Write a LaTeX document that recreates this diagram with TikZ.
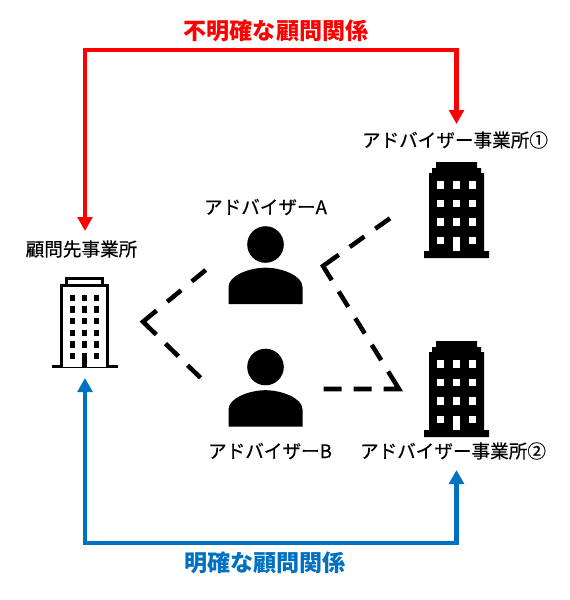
\documentclass[tikz,border=0pt]{standalone}
\usepackage{fontspec}
\setmainfont[FakeBold=0.35]{Noto Sans CJK JP}
\newfontfamily\titlefont{Noto Sans CJK JP}
\usetikzlibrary{arrows.meta}
\definecolor{relred}{RGB}{255,0,0}
\definecolor{relblue}{RGB}{0,112,192}
\tikzset{
  label text/.style={font=\fontsize{13.95pt}{16pt}\selectfont, inner sep=0pt, text=black},
  title text/.style={font=\titlefont\fontsize{17.3pt}{20pt}\selectfont\bfseries, inner sep=0pt},
  relation/.style={line width=3.2pt, {Triangle[length=10.5pt,width=11pt]}-{Triangle[length=10.5pt,width=11pt]}, line join=miter},
  dash link/.style={line width=3.4pt, line join=miter, miter limit=10, line cap=butt},
  personicon/.pic={
    \fill[black] (0,0) circle[radius=18.3];
    \fill[black] (-37,59.5) -- (-37,42.5) .. controls (-37,31) and (-16,23.2) .. (0,23.2)
       .. controls (16,23.2) and (37,31) .. (37,42.5) -- (37,59.5) -- cycle;
  },
  darktower/.pic={
    \fill[black] (-32.5,0) -- (-32.5,-7) -- (-27.5,-7) -- (-27.5,-85) -- (-24.5,-85) -- (-24.5,-90)
       -- (-20.5,-90) -- (-20.5,-96) -- (20.5,-96) -- (20.5,-90) -- (24.5,-90) -- (24.5,-85)
       -- (27.5,-85) -- (27.5,-7) -- (32.5,-7) -- (32.5,0) -- cycle;
    \foreach \cx in {-16,0,16} \foreach \cy in {-73,-54.5,-36,-17.5}
      \fill[white] (\cx-3.6,\cy-3.6) rectangle (\cx+3.6,\cy+3.6);
    \fill[white] (-3.6,-21) rectangle (3.6,-7);
  },
  outlinetower/.pic={
    \draw[black,line width=1.7pt] (-33,0) -- (33,0);
    \draw[black,line width=1.7pt,fill=white] (-23,0) -- (-23,-81) -- (23,-81) -- (23,0);
    \draw[black,line width=1.7pt] (-18,-81) -- (-18,-88) -- (18,-88) -- (18,-81);
    \foreach \cx in {-11.7,0,11.7} \foreach \cy in {-68.5,-57,-45.5,-33.5,-22,-10.5}
      \fill[black] (\cx-2.4,\cy-3.3) rectangle (\cx+2.4,\cy+3.3);
    \fill[white] (-2.4,-14) rectangle (2.4,-6);
    \fill[black] (-2.4,-13.5) rectangle (2.4,0);
  }
}
\begin{document}
\begin{tikzpicture}[x=0.75pt,y=-0.75pt]
\useasboundingbox (0,0) rectangle (569,600);

% icons
\pic at (84.5,366.5) {outlinetower};
\pic at (456.5,258) {darktower};
\pic at (456.5,437) {darktower};
\pic at (265.5,244.5) {personicon};
\pic at (265.5,367) {personicon};

% labels
\node[label text] (hqlabel) at (81.5,249) {顧問先事業所};
\node[label text] (advalabel) at (265.5,207) {アドバイザーA};
\node[label text] (advblabel) at (270,451) {アドバイザーB};
\node[label text] (off1label) at (455,140) {アドバイザー事業所①};
\node[label text] (off2label) at (453,451) {アドバイザー事業所②};
\node[title text, text=relred] (redtitle) at (276,31) {不明確な顧問関係};
\node[title text, text=relblue] (bluetitle) at (265,563) {明確な顧問関係};

% anchor points of connectors
\coordinate (hqTop) at (85,231);
\coordinate (hqBottom) at (85,378);
\coordinate (offOneTop) at (456.5,124);
\coordinate (offTwoBottom) at (456.5,470);
\coordinate (redA) at (85,50);
\coordinate (redB) at (456.5,50);
\coordinate (blueA) at (85,543);
\coordinate (blueB) at (456.5,543);

\draw[relation,color=relred] (hqTop) -- (redA) -- (redB) -- (offOneTop);
\draw[relation,color=relblue] (hqBottom) -- (blueA) -- (blueB) -- (offTwoBottom);

% dashed links
\coordinate (leftTop) at (205.7,270);
\coordinate (leftMid) at (143,321.7);
\coordinate (leftBot) at (201.7,379);
\coordinate (rightTop) at (390,218.3);
\coordinate (rightMid) at (323,266);
\coordinate (rightLow) at (399,389);
\coordinate (rightEnd) at (321,389);

\draw[dash link,dash pattern=on 13.5pt off 10.4pt on 13.5pt off 10.4pt on 27pt off 9.7pt on 13.5pt off 9.7pt on 13.5pt off 100pt]
  (leftTop) -- (leftMid) -- (leftBot);
\draw[dash link,dash pattern=on 13.5pt off 10.1pt on 13.5pt off 10.1pt on 27pt off 10pt on 13.5pt off 10pt on 13.5pt off 10pt on 13.5pt off 10pt on 27pt off 9pt on 13.5pt off 9pt on 13.5pt off 100pt]
  (rightTop) -- (rightMid) -- (rightLow) -- (rightEnd);
\end{tikzpicture}
\end{document}
